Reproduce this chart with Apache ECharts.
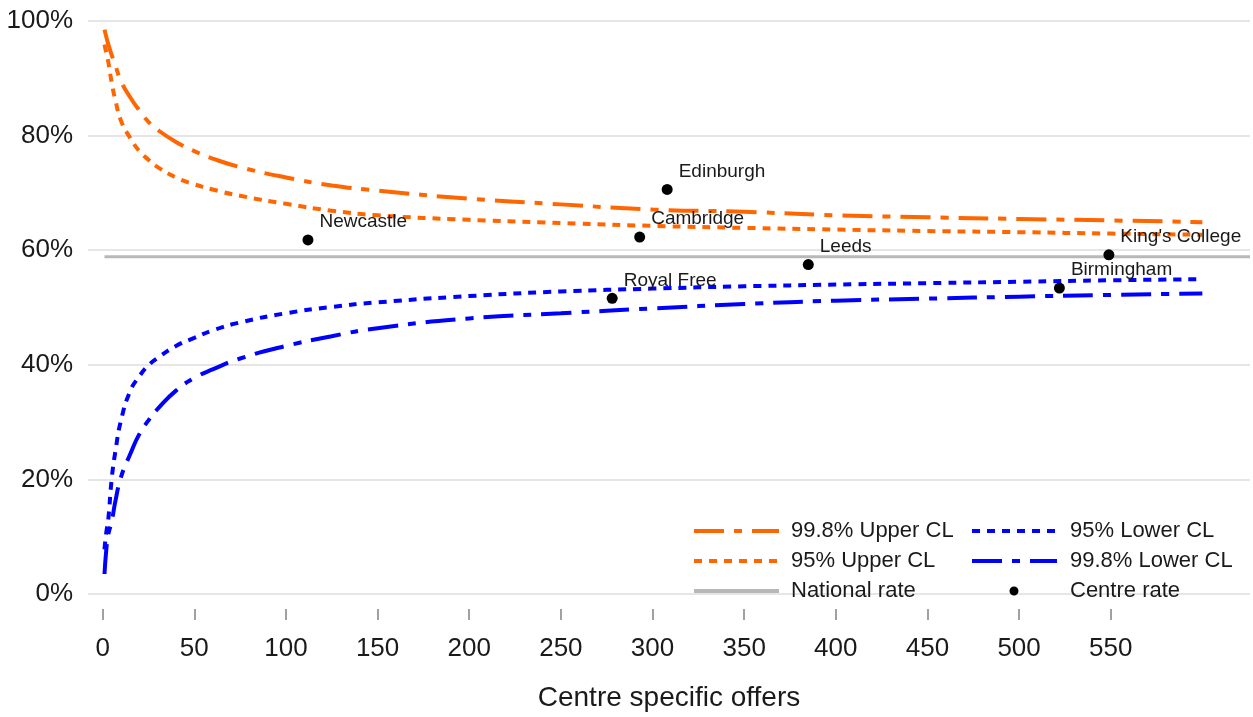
<!DOCTYPE html>
<html>
<head>
<meta charset="utf-8">
<script src="https://cdn.jsdelivr.net/npm/echarts@6/dist/echarts.min.js"></script>
<style>
  html, body { margin: 0; padding: 0; background: #ffffff; }
  #chart { width: 1253px; height: 717px; }
</style>
</head>
<body>
<div id="chart"></div>
<script>
// Funnel plot: centre offer rates against number of centre specific offers

// Number of offers at which the control limits are given
const offers = [1, 2, 3, 5, 7, 10, 15, 20, 25, 30, 40, 50, 60, 75, 100, 125, 150, 200, 250, 300, 350, 400, 450, 500, 550, 600];

// Control limits (%)
const upper998 = [98.5, 97.2, 96.0, 94.0, 92.2, 89.5, 86.7, 84.4, 82.4, 81.0, 78.9, 77.3, 76.0, 74.5, 72.7, 71.3, 70.4, 69.0, 68.0, 67.1, 66.7, 66.1, 65.75, 65.45, 65.2, 64.9];
const upper95  = [95.9, 94.4, 93.0, 89.1, 86.1, 82.6, 79.6, 77.3, 75.8, 74.5, 72.7, 71.5, 70.6, 69.5, 68.1, 66.9, 66.1, 65.3, 64.75, 64.25, 63.9, 63.6, 63.35, 63.15, 62.9, 62.7];
const lower95  = [7.8, 10.8, 12.8, 20.3, 25.0, 30.3, 35.4, 38.0, 39.9, 41.2, 43.3, 44.7, 46.0, 47.4, 49.0, 50.1, 50.9, 52.0, 52.8, 53.3, 53.7, 54.0, 54.25, 54.5, 54.75, 54.95];
const lower998 = [3.5, 7.8, 10.3, 12.8, 16.3, 20.4, 24.4, 27.9, 30.3, 32.3, 35.5, 37.7, 39.2, 41.1, 43.3, 45.0, 46.4, 48.1, 49.0, 49.85, 50.6, 51.2, 51.55, 51.9, 52.2, 52.45];

// National rate (%) and the offer range it is drawn across
const nationalRate = 58.85;
const nationalSpan = [1, 626];

// Individual centres
const centres      = ['Newcastle', 'Royal Free', 'Cambridge', 'Edinburgh', 'Leeds', 'Birmingham', "King's College"];
const centreOffers = [112, 278, 293, 308, 385, 522, 549];
const centreRates  = [61.8, 51.6, 62.3, 70.6, 57.5, 53.4, 59.2];

// Axis ticks
const xTicks = [0, 50, 100, 150, 200, 250, 300, 350, 400, 450, 500, 550];
const yTicks = [0, 20, 40, 60, 80, 100];

const FONT = '"Liberation Sans", Arial, Helvetica, sans-serif';
const ORANGE = '#ff6600';
const BLUE = '#0000ff';
const GREY = '#b8b8b8';
const GRID_GREY = '#e6e6e6';
const DASH_DOT = [30, 10, 8, 10];
const DOTTED = [8, 7];

const zip = (xs, ys) => xs.map((x, i) => [x, ys[i]]);

function limitSeries(name, values, color, dash) {
  return {
    name: name,
    type: 'line',
    data: zip(offers, values),
    smooth: 0.5,
    symbol: 'none',
    lineStyle: { color: color, width: 4, type: dash, cap: 'butt' },
    itemStyle: { color: color },
    z: 3
  };
}

// Two legend columns of three rows each
function legendColumn(left, textPad, names) {
  return {
    left: left,
    top: 520,
    padding: 0,
    orient: 'vertical',
    itemWidth: 85,
    itemHeight: 16,
    itemGap: 8,
    itemStyle: { opacity: 0 },
    lineStyle: { width: 4 },
    textStyle: { fontFamily: FONT, fontSize: 22, color: '#1a1a1a', padding: [0, 0, 0, textPad] },
    data: names
  };
}

const chart = echarts.init(document.getElementById('chart'), null, { renderer: 'canvas' });

chart.setOption({
  backgroundColor: '#ffffff',
  animation: false,
  grid: { left: 88, right: 3, top: 21, bottom: 105.3, containLabel: false },
  xAxis: {
    type: 'value',
    min: -8,
    max: 626,
    position: 'bottom',
    name: 'Centre specific offers',
    nameLocation: 'middle',
    nameGap: 75,
    nameTextStyle: { fontFamily: FONT, fontSize: 28, color: '#1a1a1a' },
    axisLine: { show: false, onZero: false },
    axisTick: { show: true, length: 11, customValues: xTicks, lineStyle: { color: '#a0a0a0', width: 2 } },
    axisLabel: { customValues: xTicks, margin: 27, fontFamily: FONT, fontSize: 26, color: '#1a1a1a' },
    splitLine: { show: false }
  },
  yAxis: {
    type: 'value',
    // a little room below 0% keeps the x-axis ticks clear of the plot
    min: -2.61,
    max: 100,
    axisLine: { show: false, onZero: false },
    axisTick: { show: false },
    axisLabel: { customValues: yTicks, formatter: '{value}%', margin: 15, fontFamily: FONT, fontSize: 26, color: '#1a1a1a' },
    splitLine: { show: false }
  },
  legend: [
    legendColumn(692, 7, [
      { name: '99.8% Upper CL' },
      { name: '95% Upper CL' },
      { name: 'National rate' }
    ]),
    legendColumn(970, 8, [
      { name: '95% Lower CL' },
      { name: '99.8% Lower CL' },
      {
        name: 'Centre rate',
        icon: 'path://M0,0Z M85,16Z M37.5,8 A4.5,4.5 0 1 1 46.5,8 A4.5,4.5 0 1 1 37.5,8 Z',
        itemStyle: { opacity: 1, color: '#000000' }
      }
    ])
  ],
  series: [
    {
      name: 'National rate',
      type: 'line',
      data: nationalSpan.map(n => [n, nationalRate]),
      symbol: 'none',
      lineStyle: { color: GREY, width: 3 },
      itemStyle: { color: GREY },
      z: 2,
      // horizontal gridlines at each y tick
      markLine: {
        silent: true,
        symbol: ['none', 'none'],
        label: { show: false },
        lineStyle: { color: GRID_GREY, width: 2, type: 'solid' },
        data: yTicks.map(v => ({ yAxis: v })),
        z: 1
      }
    },
    limitSeries('99.8% Upper CL', upper998, ORANGE, DASH_DOT),
    limitSeries('95% Upper CL', upper95, ORANGE, DOTTED),
    limitSeries('95% Lower CL', lower95, BLUE, DOTTED),
    limitSeries('99.8% Lower CL', lower998, BLUE, DASH_DOT),
    {
      name: 'Centre rate',
      type: 'scatter',
      data: centres.map((c, i) => ({ name: c, value: [centreOffers[i], centreRates[i]] })),
      symbol: 'circle',
      symbolSize: 11,
      itemStyle: { color: '#000000', opacity: 1 },
      label: {
        show: true,
        position: 'right',
        distance: 6,
        offset: [0, -18],
        formatter: p => p.name,
        fontFamily: FONT,
        fontSize: 19,
        color: '#1a1a1a'
      },
      z: 5
    }
  ]
});
</script>
</body>
</html>
